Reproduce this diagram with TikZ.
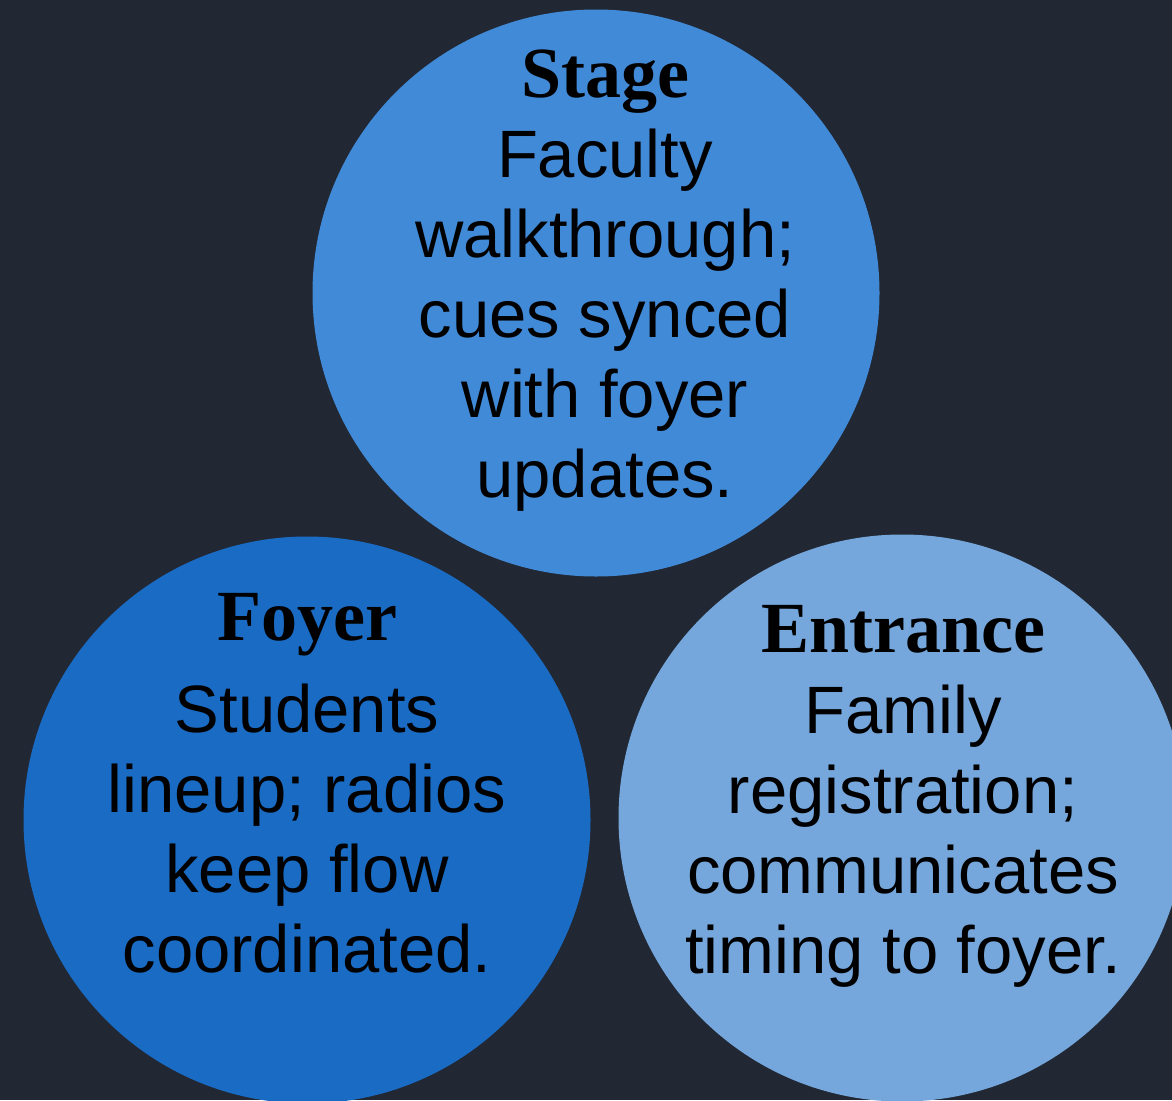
\documentclass[tikz,border=0pt]{standalone}
\usepackage{fontspec}
\setmainfont{Liberation Sans}
\newfontfamily\slabfont{Liberation Serif}
\usetikzlibrary{positioning}
\definecolor{bgDark}{HTML}{212733}
\definecolor{stageBlue}{HTML}{418AD7}
\definecolor{foyerBlue}{HTML}{1A6BC4}
\definecolor{entranceBlue}{HTML}{75A7DC}

\begin{document}
\begin{tikzpicture}[x=1pt, y=-1pt,
    zone/.style={circle, minimum size=567pt, inner sep=0pt},
    head/.style={font=\slabfont\bfseries\fontsize{72pt}{72pt}\selectfont, anchor=base, inner sep=0pt, text=black},
    body/.style={font=\fontsize{67pt}{67pt}\selectfont, anchor=base, inner sep=0pt, text=black}]
    \useasboundingbox (0,0) rectangle (1172,1100);
    \fill[bgDark] (0,0) rectangle (1172,1100);
    \clip (0,0) rectangle (1172,1100);

    % the three zones
    \node[zone, fill=stageBlue] (stage) at (596,293) {};
    \node[zone, fill=foyerBlue] (foyer) at (307,820) {};
    \node[zone, fill=entranceBlue] (entrance) at (902,818) {};

    % stage
    \node[head] (stage-title) at (605,97) {Stage};
    \foreach \t [count=\i] in {Faculty, walkthrough;, cues synced, with foyer, updates.}
        \node[body] (stage-\i) at (605,97+80*\i) {\t};

    % foyer
    \node[head] (foyer-title) at (307,640) {Foyer};
    \foreach \t [count=\i] in {Students, lineup; radios, keep flow, coordinated.}
        \node[body] (foyer-\i) at (307,652+80*\i) {\t};

    % entrance
    \node[head] (entrance-title) at (903,652) {Entrance};
    \foreach \t [count=\i] in {Family, registration;, communicates, timing to foyer.}
        \node[body] (entrance-\i) at (903,653+80*\i) {\t};
\end{tikzpicture}
\end{document}
